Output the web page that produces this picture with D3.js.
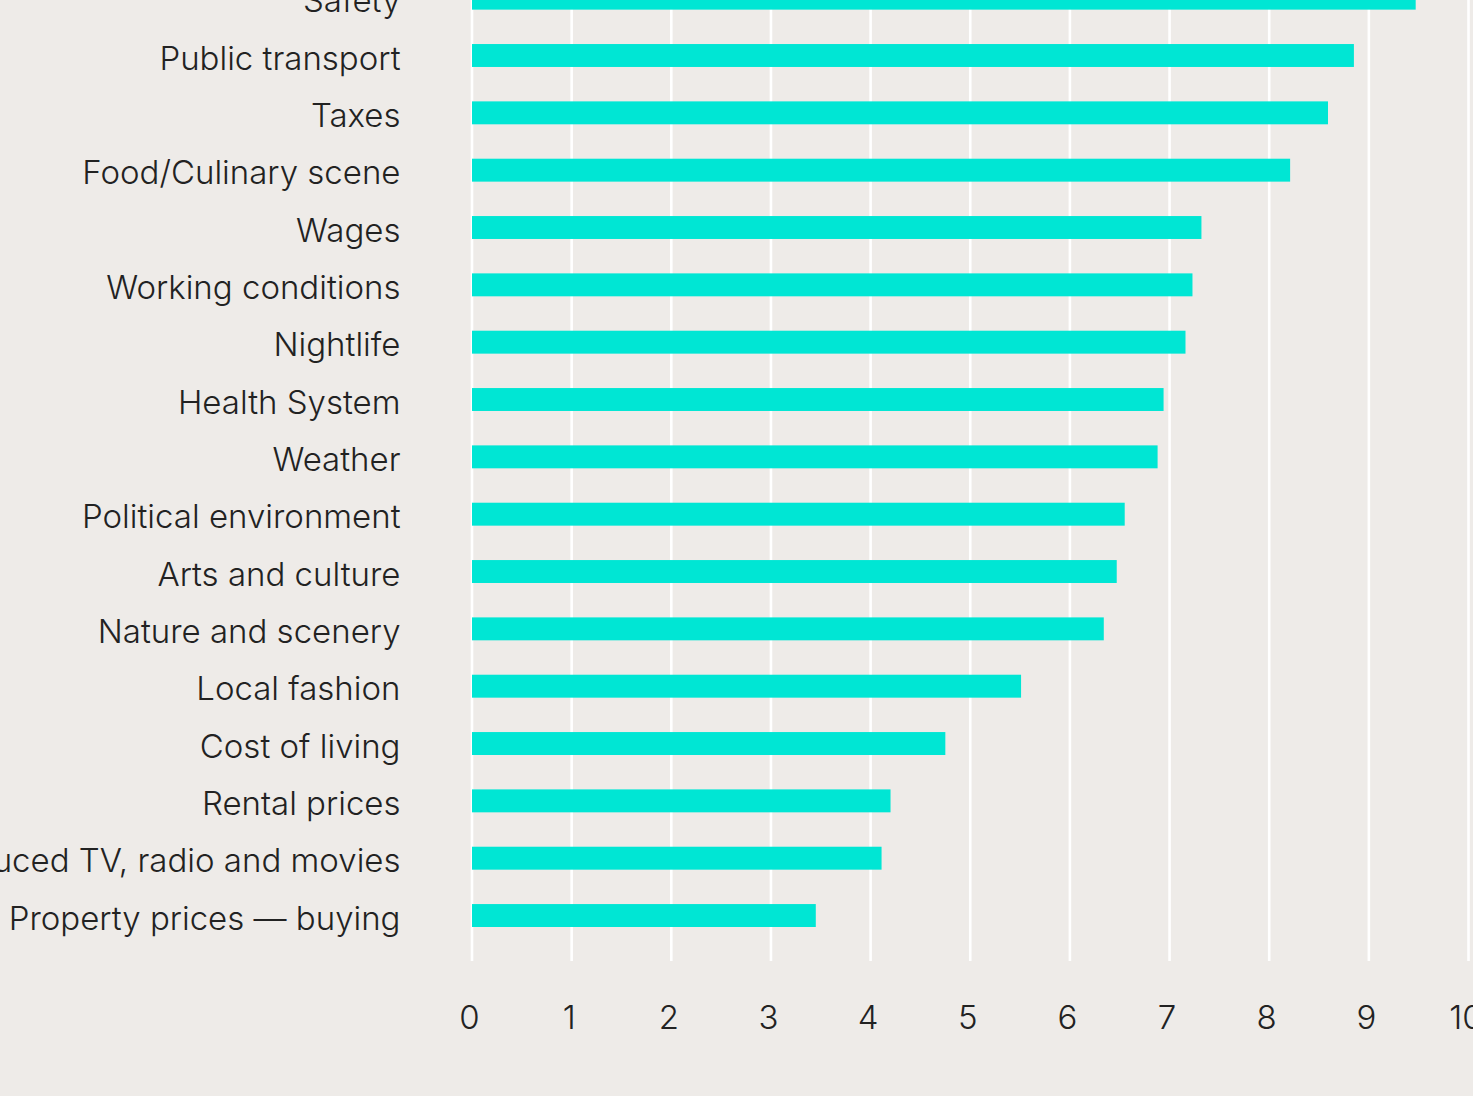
<!DOCTYPE html>
<html>
<head>
<meta charset="utf-8">
<script src="https://cdn.jsdelivr.net/npm/d3@7"></script>
<style>
  html, body { margin: 0; padding: 0; background: #eeebe8; overflow: hidden; }
  svg { display: block; }
  .tick text, .label { font-family: Inter, "Noto Sans", sans-serif; font-weight: 300; fill: #222222; }
</style>
</head>
<body>
<svg id="bar-chart"></svg>
<script>
// Chart values
const categories = [
  "Safety", "Public transport", "Taxes", "Food/Culinary scene", "Wages",
  "Working conditions", "Nightlife", "Health System", "Weather",
  "Political environment", "Arts and culture", "Nature and scenery",
  "Local fashion", "Cost of living", "Rental prices",
  "Locally produced TV, radio and movies", "Property prices \u2014 buying"
];
const scores = [
  9.47, 8.85, 8.59, 8.21, 7.32, 7.23, 7.16, 6.94, 6.88,
  6.55, 6.47, 6.34, 5.51, 4.75, 4.20, 4.11, 3.45
];
const xTicks = [0, 1, 2, 3, 4, 5, 6, 7, 8, 9, 10];

const data = categories.map((c, i) => ({ category: c, score: scores[i] }));

// Set up the size of the drawing space
let width = 1473;
let height = 1096;

let svg = d3.select("#bar-chart")
  .attr("width", width)
  .attr("height", height);

// Linear x scale and band y scale
let xScale = d3.scaleLinear()
  .domain([0, 10])
  .range([472, 1468.5]);

let yScale = d3.scaleBand()
  .domain(categories)
  .range([-47.3, 961])
  .paddingInner(0.6)
  .paddingOuter(0.593);

// Vertical grid lines
svg.append("g")
  .attr("class", "grid")
  .selectAll("line")
  .data(xTicks)
  .join("line")
    .attr("x1", d => xScale(d))
    .attr("x2", d => xScale(d))
    .attr("y1", 0)
    .attr("y2", 961)
    .attr("stroke", "#ffffff")
    .attr("stroke-width", 2.6);

// Bars
svg.append("g")
  .selectAll("rect")
  .data(data)
  .join("rect")
    .attr("x", xScale(0))
    .attr("y", d => yScale(d.category))
    .attr("width", d => xScale(d.score) - xScale(0))
    .attr("height", yScale.bandwidth())
    .attr("fill", "#00e6d4");

// Category labels
svg.append("g")
  .selectAll("text")
  .data(data)
  .join("text")
    .attr("class", "label")
    .attr("x", 400.5)
    .attr("y", d => yScale(d.category) + yScale.bandwidth() / 2 + 14)
    .attr("text-anchor", "end")
    .style("font-size", "33px")
    .text(d => d.category);

// x axis
svg.append("g")
  .attr("class", "x-axis")
  .attr("transform", "translate(-3, 1017)")
  .call(d3.axisBottom(xScale).tickValues(xTicks).tickSize(0).tickPadding(0))
  .call(g => g.select(".domain").remove())
  .selectAll("text")
    .attr("dy", "0.35em")
    .style("font-size", "33px");
</script>
</body>
</html>
